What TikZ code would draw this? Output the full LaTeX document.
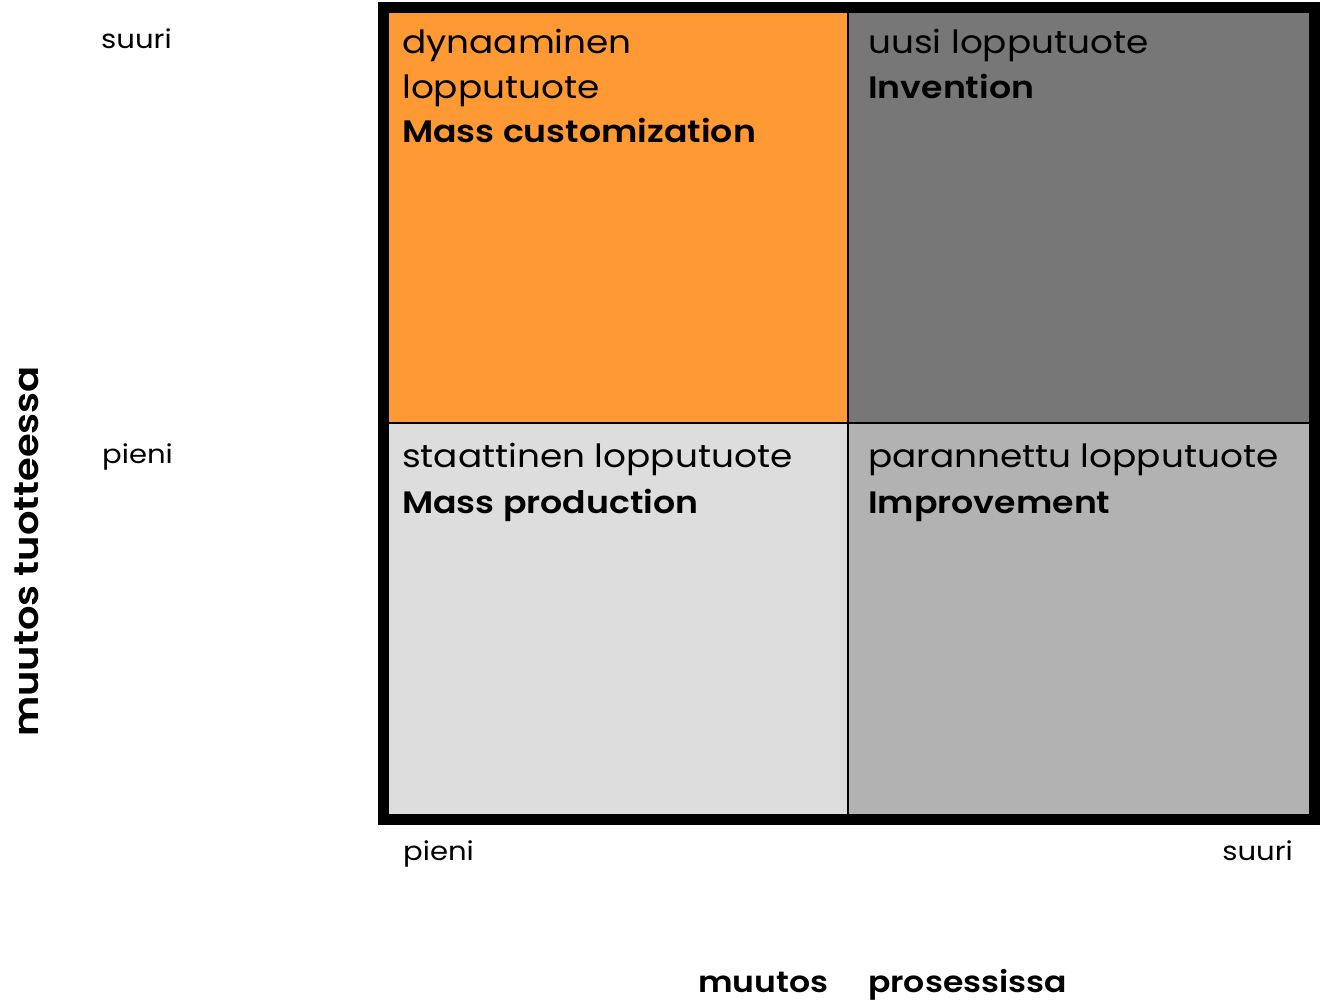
\documentclass[tikz,border=0pt]{standalone}
\usepackage{fontspec}
\setmainfont{Poppins}[FakeStretch=1.12, BoldFont={Poppins SemiBold}]
\definecolor{cOrange}{HTML}{FF9933}
\definecolor{cDark}{HTML}{777777}
\definecolor{cLight}{HTML}{DDDDDD}
\definecolor{cMid}{HTML}{B2B2B2}
\tikzset{
  celltext/.style={anchor=base west, inner sep=0pt, font=\fontsize{32}{36}\selectfont},
  cellbold/.style={celltext, font=\fontsize{31}{36}\selectfont\bfseries},
  axislbl/.style={anchor=base west, inner sep=0pt, font=\fontsize{26}{30}\selectfont},
  axistitle/.style={anchor=base west, inner sep=0pt, font=\fontsize{29.5}{36}\selectfont\bfseries},
}
\begin{document}
\begin{tikzpicture}[x=1pt,y=-1pt]
\useasboundingbox (0,0) rectangle (1321,1007);
% cells
\fill[cOrange] (383,7) rectangle (847.5,422.5);
\fill[cDark] (847.5,7) rectangle (1314,422.5);
\fill[cLight] (383,422.5) rectangle (847.5,819);
\fill[cMid] (847.5,422.5) rectangle (1314,819);
\coordinate (vt) at (847.5,7);
\coordinate (vb) at (847.5,819);
\coordinate (hl) at (383,422.5);
\coordinate (hr) at (1314,422.5);
\draw[line width=2pt] (vt) -- (vb);
\draw[line width=2pt] (hl) -- (hr);
\draw[line width=11pt] (383,7) rectangle (1314,819);
% cell texts
\node[celltext] (a1) at (402,53) {dynaaminen};
\node[celltext] (a2) at (402,98) {lopputuote};
\node[cellbold] (a3) at (402,142) {Mass customization};
\node[celltext] (b1) at (868,53) {uusi lopputuote};
\node[cellbold] (b2) at (868,98) {Invention};
\node[celltext] (c1) at (402,467) {staattinen lopputuote};
\node[cellbold] (c2) at (402,513) {Mass production};
\node[celltext] (d1) at (868,467) {parannettu lopputuote};
\node[cellbold] (d2) at (868,513) {Improvement};
% axis labels
\node[axislbl] (ys) at (101,48) {suuri};
\node[axislbl] (yp) at (102,463) {pieni};
\node[axislbl] (xp) at (403,860) {pieni};
\node[axislbl, anchor=base east] (xs) at (1293,860) {suuri};
\node[axistitle, font=\fontsize{34.3}{40}\selectfont\bfseries, rotate=90] (yt) at (38,737) {muutos tuotteessa};
\node[axistitle] (xt1) at (698,992) {muutos};
\node[axistitle] (xt2) at (868,992) {prosessissa};
\end{tikzpicture}
\end{document}
